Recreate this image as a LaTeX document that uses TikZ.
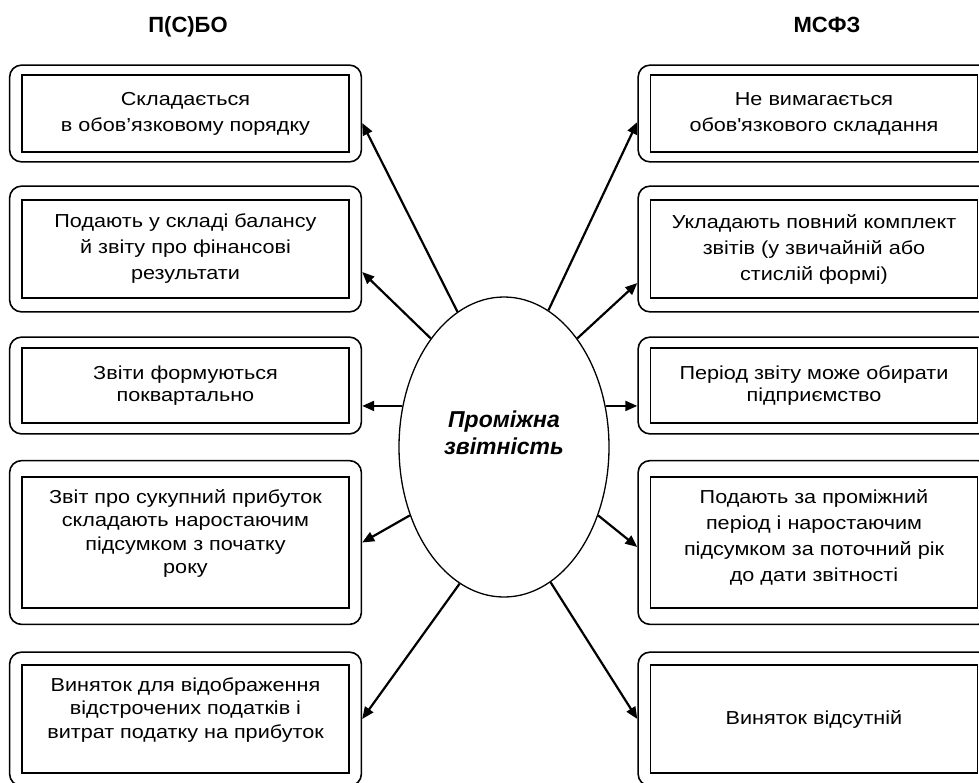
\documentclass[tikz,border=0pt]{standalone}
\usepackage{fontspec}
\setmainfont{Liberation Sans}
\newfontfamily\boxfont{Liberation Sans}[FakeStretch=1.15]
\usetikzlibrary{shapes.geometric,fit,arrows.meta}

\tikzset{
  inbox/.style={draw,line width=1.8pt,minimum width=327pt,inner sep=0pt,align=center,
    font=\boxfont\fontsize{18.8}{26}\selectfont},
  outbox/.style={draw,line width=1.6pt,rounded corners=12pt,inner xsep=11.5pt,inner ysep=#1},
  head/.style={anchor=base,font=\bfseries\fontsize{22}{26}\selectfont},
  link/.style={line width=2.2pt,-{Triangle[length=12pt,width=10pt]}}
}

\begin{document}
\begin{tikzpicture}[x=1pt,y=-1pt]
  \useasboundingbox (0,0) rectangle (979,782);
  \node[head] (lhead) at (188,32) {П(С)БО};
  \node[head] (rhead) at (827,32) {МСФЗ};
  \node[draw,ellipse,line width=1.3pt,minimum width=210pt,minimum height=300pt,inner sep=0pt,
    align=center,text depth=28pt,font=\bfseries\itshape\fontsize{23}{27}\selectfont]
    (rep) at (504,447) {Проміжна\\звітність};
  % П(С)БО
  \node[inbox,minimum height=77pt] (l1) at (185.5,113.5) {Складається\\в обов’язковому порядку};
  \node[inbox,minimum height=98pt] (l2) at (185.5,249) {Подають у складі балансу\\й звіту про фінансові\\результати};
  \node[inbox,minimum height=75pt,font=\boxfont\fontsize{18.8}{22}\selectfont] (l3) at (185.5,385.5) {Звіти формуються\\поквартально};
  \node[inbox,minimum height=131pt,text depth=22pt,font=\boxfont\fontsize{18.8}{23.5}\selectfont] (l4) at (185.5,542.5) {Звіт про сукупний прибуток\\складають наростаючим\\підсумком з початку\\року};
  \node[inbox,minimum height=108pt,text depth=22pt,font=\boxfont\fontsize{18.8}{23.5}\selectfont] (l5) at (185.5,719) {Виняток для відображення\\відстрочених податків і\\витрат податку на прибуток};
  % МСФЗ
  \node[inbox,minimum height=77pt] (r1) at (814,113.5) {Не вимагається\\обов\textquotesingle язкового складання};
  \node[inbox,minimum height=98pt] (r2) at (814,249) {Укладають повний комплект\\звітів (у звичайній або\\стислій формі)};
  \node[inbox,minimum height=75pt,font=\boxfont\fontsize{18.8}{22}\selectfont] (r3) at (814,385.5) {Період звіту може обирати\\підприємство};
  \node[inbox,minimum height=131pt,text depth=14pt] (r4) at (814,542.5) {Подають за проміжний\\період і наростаючим\\підсумком за поточний рік\\до дати звітності};
  \node[inbox,minimum height=108pt] (r5) at (814,719) {Виняток відсутній};
  \foreach \n/\s in {l1/9,l2/13,l3/10,l4/15.5,l5/12,r1/9,r2/13,r3/10,r4/15.5,r5/12}
    \node[outbox=\s pt,fit=(\n)] (\n o) {};
  \draw[link] (rep.109) -- ([yshift=-9.5pt]l1o.east);
  \draw[link] (rep.124) -- ([yshift=-23pt]l2o.east);
  \draw[link] (rep.158) -- (rep.158 -| l3o.east);
  \draw[link] (rep.216) -- (l4o.east);
  \draw[link] (rep.252) -- (l5o.east);
  \draw[link] (rep.72) -- ([yshift=-8.5pt]r1o.west);
  \draw[link] (rep.56) -- ([yshift=-34pt]r2o.west);
  \draw[link] (rep.22) -- (rep.22 -| r3o.west);
  \draw[link] (rep.324) -- ([yshift=-4.5pt]r4o.west);
  \draw[link] (rep.289) -- (r5o.west);
\end{tikzpicture}
\end{document}
